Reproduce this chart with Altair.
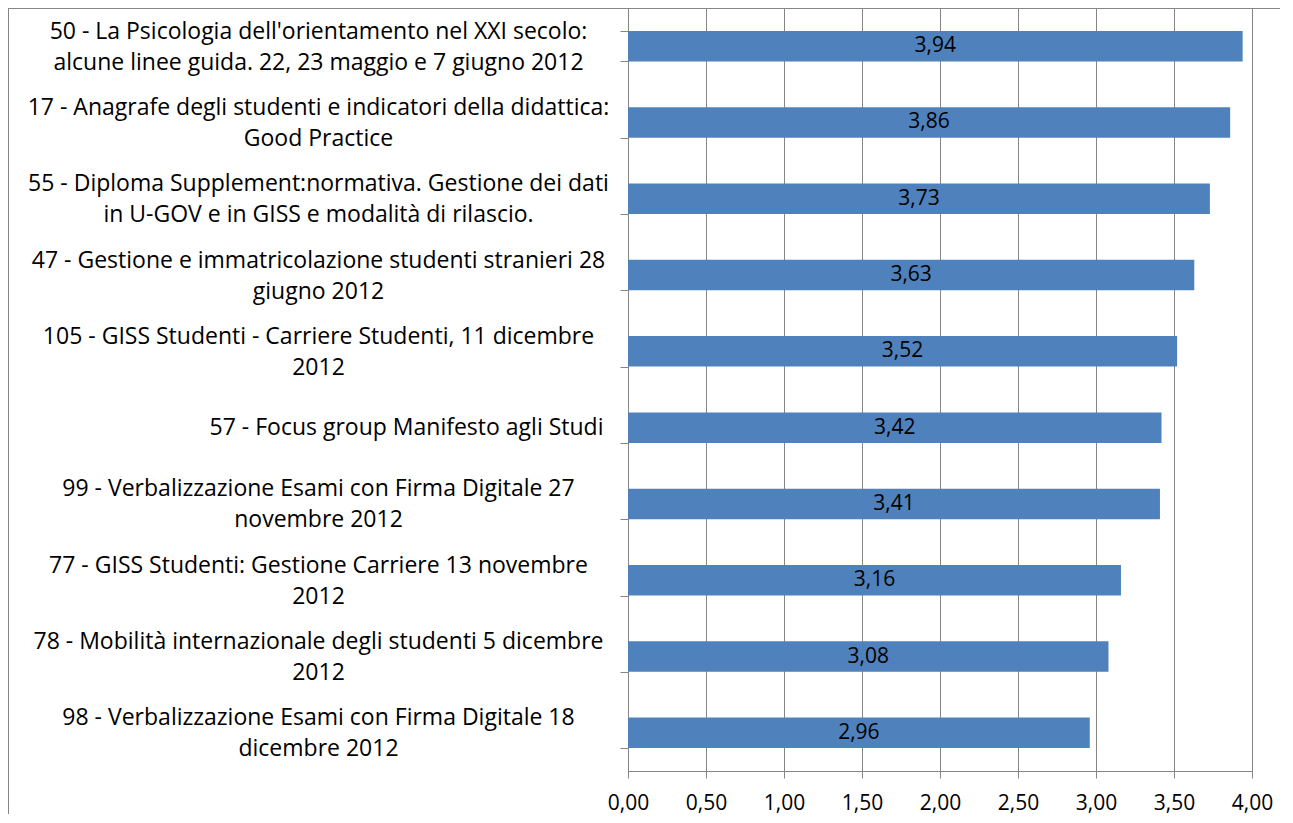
import altair as alt
import pandas as pd

line1 = [
    "50 - La Psicologia dell'orientamento nel XXI secolo:",
    "17 - Anagrafe degli studenti e indicatori della didattica:",
    "55 - Diploma Supplement:normativa. Gestione dei dati",
    "47 - Gestione e immatricolazione studenti stranieri 28",
    "105 - GISS Studenti - Carriere Studenti, 11 dicembre",
    "57 - Focus group Manifesto agli Studi",
    "99 - Verbalizzazione Esami con Firma Digitale 27",
    "77 - GISS Studenti: Gestione Carriere 13 novembre",
    "78 - Mobilità internazionale degli studenti 5 dicembre",
    "98 - Verbalizzazione Esami con Firma Digitale 18",
]
line2 = [
    "alcune linee guida. 22, 23 maggio e 7 giugno 2012",
    "Good Practice",
    "in U-GOV e in GISS e modalità di rilascio.",
    "giugno 2012",
    "2012",
    "",
    "novembre 2012",
    "2012",
    "2012",
    "dicembre 2012",
]
values = [3.94, 3.86, 3.73, 3.63, 3.52, 3.42, 3.41, 3.16, 3.08, 2.96]
x_ticks = [0, 0.5, 1, 1.5, 2, 2.5, 3, 3.5, 4]

labels = [a + ("|" + b if b else "") for a, b in zip(line1, line2)]
df = pd.DataFrame({"corso": labels, "valore": values})
df["testo"] = [f"{v:.2f}".replace(".", ",") for v in values]

FONT = "Open Sans"
GRAY = "#868686"
single = "isValid(datum.value) && indexof(datum.value, '|') < 0"
double = "isValid(datum.value) && indexof(datum.value, '|') >= 0"

y_enc = alt.Y(
    "corso:N",
    sort=labels,
    title=None,
    scale=alt.Scale(paddingInner=0.6, paddingOuter=0.3),
    axis=alt.Axis(
        labelExpr="isValid(datum.value) ? split(datum.value, '|') : ''",
        labelFont=FONT,
        labelFontSize=23,
        labelColor="black",
        labelLineHeight=31,
        labelLimit=700,
        labelAlign=alt.condition(single, alt.value("right"), alt.value("center")),
        labelPadding=alt.condition(single, alt.value(17), alt.value(302)),
        labelOffset=alt.condition(double, alt.value(-15), alt.value(0)),
        labelBaseline="middle",
        tickBand="extent",
        tickSize=8,
        tickColor=GRAY,
        domainColor=GRAY,
        grid=False,
    ),
)

x_scale = alt.Scale(domain=[0, 4], nice=False)

bars = alt.Chart(df).mark_bar(color="#4F81BD").encode(
    x=alt.X(
        "valore:Q",
        scale=x_scale,
        title=None,
        axis=alt.Axis(
            values=x_ticks,
            labelExpr="replace(format(datum.value, '.2f'), '.', ',')",
            labelFont=FONT,
            labelFontSize=21,
            labelColor="black",
            labelFlush=False,
            labelPadding=14,
            tickSize=7,
            tickColor=GRAY,
            domainColor=GRAY,
            gridColor=GRAY,
            gridWidth=1,
        ),
    ),
    y=y_enc,
)

text = alt.Chart(df).transform_calculate(mid="datum.valore / 2").mark_text(
    font=FONT, fontSize=21, color="black", align="center", baseline="middle"
).encode(
    x=alt.X("mid:Q", scale=x_scale),
    y=alt.Y("corso:N", sort=labels),
    text="testo:N",
)

# outer chart frame (decoration, like the Excel chart border)
frame_df = pd.DataFrame({"k": [0]})
frame_top = alt.Chart(frame_df).mark_rule(color=GRAY, strokeWidth=1).encode(
    x=alt.value(-620), x2=alt.value(660), y=alt.value(0.5)
)
frame_left = alt.Chart(frame_df).mark_rule(color=GRAY, strokeWidth=1).encode(
    x=alt.value(-619.5), y=alt.value(0), y2=alt.value(820)
)

chart = (
    alt.layer(bars, text, frame_top, frame_left)
    .properties(
        width=624,
        height=763,
        autosize=alt.AutoSizeParams(type="none"),
        padding={"left": 620, "top": 0, "right": 28, "bottom": 43},
    )
    .configure_view(stroke=GRAY, strokeWidth=1)
    .configure(background="white")
)

chart.save("out.html", embed_options={"renderer": "svg", "actions": False})
